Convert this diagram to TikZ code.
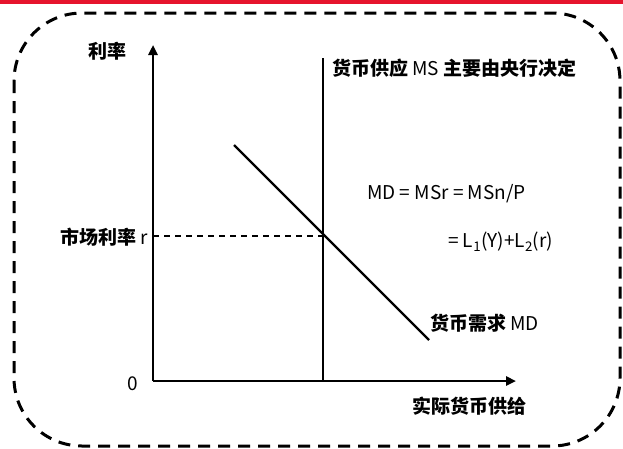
\documentclass[tikz,border=0pt]{standalone}
\usepackage{fontspec}
\setmainfont{Noto Sans CJK SC}
\usetikzlibrary{arrows.meta}
\definecolor{topred}{RGB}{230,20,45}
\begin{document}
\begin{tikzpicture}[x=1pt,y=-1pt,
  axis/.style={line width=2.4pt,-{Triangle[length=10pt,width=9pt]}},
  curve/.style={line width=2.4pt},
  guide/.style={line width=1.4pt,dash pattern=on 6pt off 5pt},
  lbl/.style={font=\fontsize{19}{22}\selectfont\bfseries,inner sep=0pt},
  eq/.style={font=\fontsize{19}{22}\selectfont,inner sep=0pt}]
\useasboundingbox (0,0) rectangle (623,448);
\fill[white] (0,0) rectangle (623,448);
\fill[topred] (0,0) rectangle (623,3.5);
\draw[line width=3pt,dash pattern=on 12pt off 8pt,rounded corners=68pt] (14,13) rectangle (620,446);
% axes
\coordinate (O) at (153,381);
\coordinate (ytop) at (153,45);
\coordinate (xend) at (516,381);
\draw[axis] (O) -- (ytop);
\draw[axis] (O) -- (xend);
% MS line
\coordinate (mstop) at (323,58);
\coordinate (msbot) at (323,381);
\draw[curve] (msbot) -- (mstop);
% MD line
\coordinate (mda) at (234,145);
\coordinate (mdb) at (429,340);
\draw[curve] (mda) -- (mdb);
% equilibrium
\coordinate (E) at (323,236);
\coordinate (Ey) at (153,236);
\draw[guide] (Ey) -- (E);
% labels
\node[lbl,anchor=center] (ylab) at (107,51) {利率};
\node[lbl,anchor=east] (rlab) at (148,237) {市场利率 \mdseries r};
\node[eq,anchor=center] (zero) at (133,384) {0};
\node[lbl,anchor=east] (xlab) at (527,406) {实际货币供给};
\node[lbl,anchor=west] (mslab) at (332,68) {货币供应 \mdseries MS \bfseries 主要由央行决定};
\node[eq,anchor=west] (eq1) at (367,194) {MD = MSr = MSn/P};
\node[eq,anchor=west] (eq2) at (448,242) {= L\textsubscript{1}(Y)+L\textsubscript{2}(r)};
\node[lbl,anchor=west] (mdlab) at (430,323) {货币需求 \mdseries MD};
\end{tikzpicture}
\end{document}
